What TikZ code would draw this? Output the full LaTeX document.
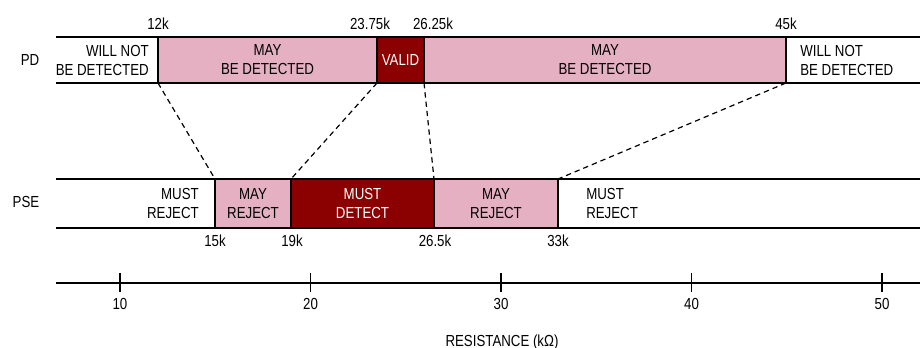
\documentclass[tikz,border=0pt]{standalone}
\usepackage{fontspec}
\setmainfont{Liberation Sans}[FakeStretch=0.83]
\usetikzlibrary{fit}
\definecolor{maypink}{RGB}{230,176,195}
\definecolor{darkred}{RGB}{139,0,0}

\begin{document}
\begin{tikzpicture}[x=0.75pt,y=-0.75pt,
  txt/.style={font=\fontsize{12}{14.25}\selectfont, inner sep=0pt, align=center},
  cell/.style={inner sep=0pt, outer sep=0pt},
  maycell/.style={cell, fill=maypink},
  surecell/.style={cell, fill=darkred},
  rule/.style={line width=1.9pt},
  divider/.style={line width=1.5pt},
  conn/.style={line width=0.9pt, dash pattern=on 4pt off 3pt},
  axisline/.style={line width=1.1pt}]
\useasboundingbox (0,0) rectangle (920,348);

% ---- PD row ----
\node[cell,     fit={(56,37) (158,83)}]  (pd0) {};
\node[maycell,  fit={(158,37) (377,83)}] (pd1) {};
\node[surecell, fit={(377,37) (424,83)}] (pd2) {};
\node[maycell,  fit={(424,37) (786,83)}] (pd3) {};
\node[cell,     fit={(786,37) (920,83)}] (pd4) {};
\draw[rule] (pd0.north west) -- (pd4.north east);
\draw[rule] (pd0.south west) -- (pd4.south east);
\foreach \c in {pd1,pd2,pd3,pd4}
  \draw[divider] (\c.north west) -- (\c.south west);

\node[txt] (pdlabel) at (30,60) {PD};
\node[txt, align=right, anchor=east] (pdt0) at (149,60) {WILL NOT\\BE DETECTED};
\node[txt] (pdt1) at (pd1.center) {MAY\\BE DETECTED};
\node[txt, text=white] (pdt2) at (pd2.center) {VALID};
\node[txt] (pdt3) at (pd3.center) {MAY\\BE DETECTED};
\node[txt, align=left, anchor=west] (pdt4) at (800,60) {WILL NOT\\BE DETECTED};

\node[txt] (v12)  at (158,24) {12k};
\node[txt] (v2375) at (370,24) {23.75k};
\node[txt] (v2625) at (433,24) {26.25k};
\node[txt] (v45)  at (786,24) {45k};

% ---- PSE row ----
\node[cell,     fit={(56,179) (215,228)}]  (pse0) {};
\node[maycell,  fit={(215,179) (291,228)}] (pse1) {};
\node[surecell, fit={(291,179) (434,228)}] (pse2) {};
\node[maycell,  fit={(434,179) (558,228)}] (pse3) {};
\node[cell,     fit={(558,179) (920,228)}] (pse4) {};
\draw[rule] (pse0.north west) -- (pse4.north east);
\draw[rule] (pse0.south west) -- (pse4.south east);
\foreach \c in {pse1,pse2,pse3,pse4}
  \draw[divider] (\c.north west) -- (\c.south west);

\node[txt] (pselabel) at (26,202) {PSE};
\node[txt, align=right, anchor=east] (pset0) at (199,203) {MUST\\REJECT};
\node[txt] (pset1) at (pse1.center) {MAY\\REJECT};
\node[txt, text=white] (pset2) at (pse2.center) {MUST\\DETECT};
\node[txt] (pset3) at (pse3.center) {MAY\\REJECT};
\node[txt, align=left, anchor=west] (pset4) at (586,203) {MUST\\REJECT};

\node[txt] (v15)  at (215,241) {15k};
\node[txt] (v19)  at (292,241) {19k};
\node[txt] (v265) at (435,241) {26.5k};
\node[txt] (v33)  at (558,241) {33k};

% ---- mapping between the two rows ----
\draw[conn] (pd0.south east) -- (pse1.north west);
\draw[conn] (pd2.south west) -- (pse2.north west);
\draw[conn] (pd2.south east) -- (pse3.north west);
\draw[conn] (pd4.south west) -- (pse4.north west);

% ---- resistance axis ----
\coordinate (axl) at (56,283);
\coordinate (axr) at (920,283);
\draw[axisline] (axl) -- (axr);
\foreach \v in {10,20,30,40,50}{
  \pgfmathsetmacro{\xx}{120+(\v-10)*19.05}
  \draw[axisline] (\xx,273) -- (\xx,292);
  \node[txt] (tick\v) at (\xx,304) {\v};
}
\node[txt] (axtitle) at (502,342) {RESISTANCE (kΩ)};
\end{tikzpicture}
\end{document}
